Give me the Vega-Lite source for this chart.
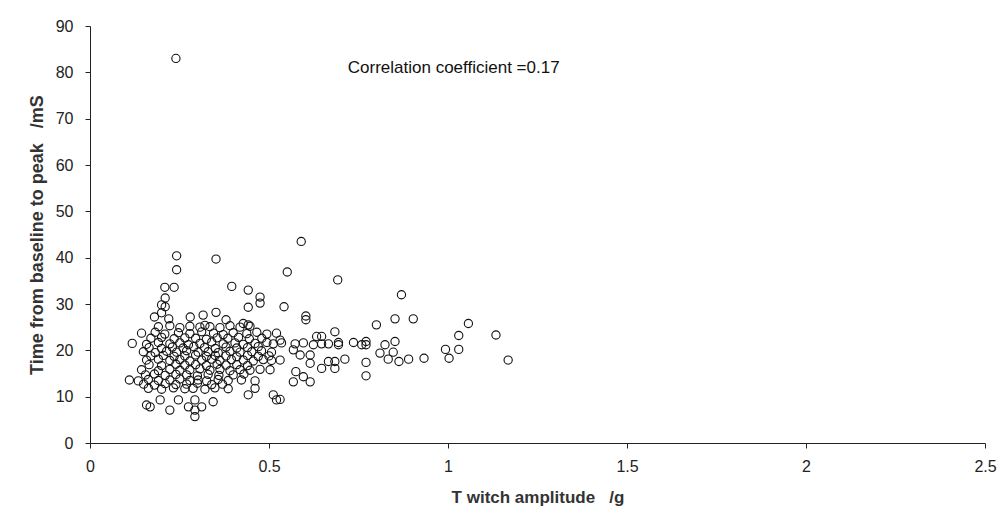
{
  "$schema": "https://vega.github.io/schema/vega-lite/v6.json",
  "width": 895,
  "height": 417,
  "autosize": "none",
  "padding": {"left": 90, "top": 26, "right": 16, "bottom": 79},
  "background": "white",
  "config": {
    "view": {"stroke": null},
    "font": "Liberation Sans"
  },
  "datasets": {
    "twitch": [
      {"amp": 0.24, "ttp": 83.0},
      {"amp": 0.242, "ttp": 40.4}, {"amp": 0.242, "ttp": 37.4}, {"amp": 0.352, "ttp": 39.7},
      {"amp": 0.209, "ttp": 33.6}, {"amp": 0.235, "ttp": 33.6}, {"amp": 0.396, "ttp": 33.8},
      {"amp": 0.442, "ttp": 33.0}, {"amp": 0.475, "ttp": 31.5}, {"amp": 0.475, "ttp": 30.2},
      {"amp": 0.442, "ttp": 29.3}, {"amp": 0.542, "ttp": 29.4}, {"amp": 0.551, "ttp": 36.9},
      {"amp": 0.59, "ttp": 43.5}, {"amp": 0.21, "ttp": 31.3}, {"amp": 0.2, "ttp": 29.8},
      {"amp": 0.21, "ttp": 29.4}, {"amp": 0.2, "ttp": 28.1}, {"amp": 0.692, "ttp": 35.2},
      {"amp": 0.87, "ttp": 32.0},
      {"amp": 0.18, "ttp": 27.2}, {"amp": 0.22, "ttp": 26.8}, {"amp": 0.28, "ttp": 27.2},
      {"amp": 0.316, "ttp": 27.6}, {"amp": 0.352, "ttp": 28.2}, {"amp": 0.38, "ttp": 26.6},
      {"amp": 0.428, "ttp": 25.8}, {"amp": 0.442, "ttp": 25.5}, {"amp": 0.603, "ttp": 27.4},
      {"amp": 0.603, "ttp": 26.6}, {"amp": 0.8, "ttp": 25.5}, {"amp": 0.852, "ttp": 26.8},
      {"amp": 0.903, "ttp": 26.8}, {"amp": 1.057, "ttp": 25.8}, {"amp": 1.03, "ttp": 23.2},
      {"amp": 1.134, "ttp": 23.3}, {"amp": 1.03, "ttp": 20.2}, {"amp": 0.993, "ttp": 20.2},
      {"amp": 1.003, "ttp": 18.3}, {"amp": 0.933, "ttp": 18.3}, {"amp": 0.89, "ttp": 18.1},
      {"amp": 0.863, "ttp": 17.6}, {"amp": 0.833, "ttp": 18.1}, {"amp": 0.81, "ttp": 19.4},
      {"amp": 0.824, "ttp": 21.2}, {"amp": 0.852, "ttp": 21.9}, {"amp": 0.847, "ttp": 19.6},
      {"amp": 0.771, "ttp": 21.9}, {"amp": 0.771, "ttp": 21.2}, {"amp": 0.736, "ttp": 21.7},
      {"amp": 0.759, "ttp": 21.2}, {"amp": 0.771, "ttp": 17.4}, {"amp": 0.771, "ttp": 14.5},
      {"amp": 0.712, "ttp": 18.1}, {"amp": 0.684, "ttp": 24.0}, {"amp": 0.694, "ttp": 21.7},
      {"amp": 0.694, "ttp": 21.2}, {"amp": 0.684, "ttp": 17.6}, {"amp": 0.684, "ttp": 16.1},
      {"amp": 0.666, "ttp": 17.6}, {"amp": 0.647, "ttp": 16.1}, {"amp": 0.633, "ttp": 23.0},
      {"amp": 0.647, "ttp": 23.0}, {"amp": 0.568, "ttp": 13.2}, {"amp": 0.615, "ttp": 13.2},
      {"amp": 0.596, "ttp": 14.3}, {"amp": 0.575, "ttp": 15.4}, {"amp": 0.615, "ttp": 17.2},
      {"amp": 0.587, "ttp": 19.0}, {"amp": 0.615, "ttp": 19.0}, {"amp": 0.568, "ttp": 20.1},
      {"amp": 0.573, "ttp": 21.4}, {"amp": 0.596, "ttp": 21.6}, {"amp": 0.624, "ttp": 21.2},
      {"amp": 0.647, "ttp": 21.4}, {"amp": 0.666, "ttp": 21.4}, {"amp": 0.531, "ttp": 22.2},
      {"amp": 0.531, "ttp": 17.9}, {"amp": 0.531, "ttp": 9.4}, {"amp": 1.168, "ttp": 17.9},
      {"amp": 0.144, "ttp": 23.7}, {"amp": 0.182, "ttp": 23.9}, {"amp": 0.209, "ttp": 23.5},
      {"amp": 0.247, "ttp": 23.8}, {"amp": 0.279, "ttp": 23.6}, {"amp": 0.312, "ttp": 24.0},
      {"amp": 0.345, "ttp": 23.7}, {"amp": 0.372, "ttp": 23.4}, {"amp": 0.4, "ttp": 23.8},
      {"amp": 0.438, "ttp": 23.6}, {"amp": 0.466, "ttp": 23.9}, {"amp": 0.494, "ttp": 23.5},
      {"amp": 0.521, "ttp": 23.7},
      {"amp": 0.118, "ttp": 21.5}, {"amp": 0.158, "ttp": 21.3}, {"amp": 0.191, "ttp": 21.7},
      {"amp": 0.223, "ttp": 21.4}, {"amp": 0.251, "ttp": 21.6}, {"amp": 0.275, "ttp": 21.2},
      {"amp": 0.307, "ttp": 21.5}, {"amp": 0.34, "ttp": 21.8}, {"amp": 0.372, "ttp": 21.4},
      {"amp": 0.405, "ttp": 21.6}, {"amp": 0.428, "ttp": 21.3}, {"amp": 0.461, "ttp": 21.5},
      {"amp": 0.494, "ttp": 21.7}, {"amp": 0.512, "ttp": 21.4}, {"amp": 0.535, "ttp": 21.6},
      {"amp": 0.149, "ttp": 19.7}, {"amp": 0.182, "ttp": 19.5}, {"amp": 0.214, "ttp": 19.8},
      {"amp": 0.242, "ttp": 19.6}, {"amp": 0.27, "ttp": 19.9}, {"amp": 0.302, "ttp": 19.6},
      {"amp": 0.33, "ttp": 19.7}, {"amp": 0.358, "ttp": 19.5}, {"amp": 0.391, "ttp": 19.8},
      {"amp": 0.419, "ttp": 19.6}, {"amp": 0.452, "ttp": 19.7}, {"amp": 0.479, "ttp": 19.9},
      {"amp": 0.507, "ttp": 19.6},
      {"amp": 0.158, "ttp": 17.9}, {"amp": 0.191, "ttp": 18.1}, {"amp": 0.223, "ttp": 17.8},
      {"amp": 0.251, "ttp": 18.0}, {"amp": 0.279, "ttp": 17.7}, {"amp": 0.312, "ttp": 17.9},
      {"amp": 0.34, "ttp": 18.1}, {"amp": 0.363, "ttp": 17.8}, {"amp": 0.395, "ttp": 18.0},
      {"amp": 0.428, "ttp": 17.9}, {"amp": 0.456, "ttp": 17.7}, {"amp": 0.484, "ttp": 18.0},
      {"amp": 0.507, "ttp": 17.8},
      {"amp": 0.144, "ttp": 15.8}, {"amp": 0.191, "ttp": 15.6}, {"amp": 0.223, "ttp": 15.9},
      {"amp": 0.251, "ttp": 15.7}, {"amp": 0.279, "ttp": 15.8}, {"amp": 0.307, "ttp": 16.0},
      {"amp": 0.335, "ttp": 15.7}, {"amp": 0.363, "ttp": 15.9}, {"amp": 0.391, "ttp": 15.6},
      {"amp": 0.419, "ttp": 15.8}, {"amp": 0.447, "ttp": 15.7}, {"amp": 0.475, "ttp": 15.9},
      {"amp": 0.503, "ttp": 15.8},
      {"amp": 0.11, "ttp": 13.6}, {"amp": 0.135, "ttp": 13.4}, {"amp": 0.163, "ttp": 13.7},
      {"amp": 0.191, "ttp": 13.5}, {"amp": 0.223, "ttp": 13.6}, {"amp": 0.251, "ttp": 13.8},
      {"amp": 0.279, "ttp": 13.5}, {"amp": 0.302, "ttp": 13.6}, {"amp": 0.326, "ttp": 13.4},
      {"amp": 0.358, "ttp": 13.7}, {"amp": 0.386, "ttp": 13.5}, {"amp": 0.423, "ttp": 13.6},
      {"amp": 0.461, "ttp": 13.4},
      {"amp": 0.163, "ttp": 11.8}, {"amp": 0.2, "ttp": 11.6}, {"amp": 0.233, "ttp": 11.9},
      {"amp": 0.265, "ttp": 11.7}, {"amp": 0.288, "ttp": 11.8}, {"amp": 0.321, "ttp": 11.6},
      {"amp": 0.349, "ttp": 11.9}, {"amp": 0.386, "ttp": 11.7}, {"amp": 0.461, "ttp": 11.8},
      {"amp": 0.191, "ttp": 25.1}, {"amp": 0.223, "ttp": 25.3}, {"amp": 0.251, "ttp": 24.9},
      {"amp": 0.279, "ttp": 25.2}, {"amp": 0.307, "ttp": 25.0}, {"amp": 0.321, "ttp": 25.4},
      {"amp": 0.335, "ttp": 25.1}, {"amp": 0.363, "ttp": 24.9}, {"amp": 0.391, "ttp": 25.3},
      {"amp": 0.419, "ttp": 25.0}, {"amp": 0.447, "ttp": 25.2},
      {"amp": 0.158, "ttp": 8.2}, {"amp": 0.168, "ttp": 7.8}, {"amp": 0.223, "ttp": 7.1},
      {"amp": 0.275, "ttp": 7.8}, {"amp": 0.293, "ttp": 9.3}, {"amp": 0.293, "ttp": 7.1},
      {"amp": 0.293, "ttp": 5.7}, {"amp": 0.312, "ttp": 7.8}, {"amp": 0.344, "ttp": 8.9},
      {"amp": 0.196, "ttp": 9.3}, {"amp": 0.247, "ttp": 9.3}, {"amp": 0.442, "ttp": 10.4},
      {"amp": 0.512, "ttp": 10.4}, {"amp": 0.521, "ttp": 9.3},
      {"amp": 0.17, "ttp": 22.6}, {"amp": 0.2, "ttp": 22.8}, {"amp": 0.235, "ttp": 22.5},
      {"amp": 0.265, "ttp": 22.7}, {"amp": 0.295, "ttp": 22.6}, {"amp": 0.325, "ttp": 22.4},
      {"amp": 0.355, "ttp": 22.7}, {"amp": 0.385, "ttp": 22.6}, {"amp": 0.415, "ttp": 22.8},
      {"amp": 0.445, "ttp": 22.5}, {"amp": 0.48, "ttp": 22.6},
      {"amp": 0.165, "ttp": 20.6}, {"amp": 0.2, "ttp": 20.4}, {"amp": 0.23, "ttp": 20.7},
      {"amp": 0.26, "ttp": 20.5}, {"amp": 0.29, "ttp": 20.8}, {"amp": 0.32, "ttp": 20.6},
      {"amp": 0.35, "ttp": 20.4}, {"amp": 0.38, "ttp": 20.7}, {"amp": 0.41, "ttp": 20.5},
      {"amp": 0.44, "ttp": 20.6}, {"amp": 0.47, "ttp": 20.8},
      {"amp": 0.17, "ttp": 18.8}, {"amp": 0.205, "ttp": 18.9}, {"amp": 0.235, "ttp": 18.7},
      {"amp": 0.265, "ttp": 18.8}, {"amp": 0.295, "ttp": 19.0}, {"amp": 0.325, "ttp": 18.7},
      {"amp": 0.35, "ttp": 18.9}, {"amp": 0.38, "ttp": 18.8}, {"amp": 0.41, "ttp": 18.6},
      {"amp": 0.44, "ttp": 18.9}, {"amp": 0.47, "ttp": 18.7}, {"amp": 0.5, "ttp": 18.8},
      {"amp": 0.165, "ttp": 16.9}, {"amp": 0.2, "ttp": 16.7}, {"amp": 0.24, "ttp": 17.0},
      {"amp": 0.265, "ttp": 16.8}, {"amp": 0.295, "ttp": 16.9}, {"amp": 0.325, "ttp": 16.7},
      {"amp": 0.355, "ttp": 17.0}, {"amp": 0.38, "ttp": 16.8}, {"amp": 0.41, "ttp": 16.9},
      {"amp": 0.44, "ttp": 16.7},
      {"amp": 0.155, "ttp": 14.7}, {"amp": 0.18, "ttp": 14.9}, {"amp": 0.21, "ttp": 14.6},
      {"amp": 0.24, "ttp": 14.8}, {"amp": 0.27, "ttp": 14.7}, {"amp": 0.3, "ttp": 14.5},
      {"amp": 0.33, "ttp": 14.8}, {"amp": 0.36, "ttp": 14.6}, {"amp": 0.4, "ttp": 14.7},
      {"amp": 0.43, "ttp": 14.9},
      {"amp": 0.15, "ttp": 12.7}, {"amp": 0.18, "ttp": 12.5}, {"amp": 0.21, "ttp": 12.8},
      {"amp": 0.24, "ttp": 12.6}, {"amp": 0.27, "ttp": 12.7}, {"amp": 0.3, "ttp": 12.9},
      {"amp": 0.34, "ttp": 12.6}, {"amp": 0.37, "ttp": 12.7}
    ],
    "note": [
      {"amp": 0.72, "ttp": 81, "label": "Correlation coefficient =0.17"}
    ]
  },
  "layer": [
    {
      "data": {"name": "twitch"},
      "mark": {"type": "point", "shape": "circle", "filled": false, "stroke": "#111111", "strokeWidth": 1.1, "size": 68, "opacity": 1},
      "encoding": {
        "x": {
          "field": "amp", "type": "quantitative",
          "scale": {"domain": [0, 2.5], "nice": false, "zero": true},
          "axis": {
            "title": "T witch amplitude\u00a0\u00a0 /g",
            "values": [0, 0.5, 1, 1.5, 2, 2.5],
            "labelExpr": "'' + datum.value",
            "grid": false,
            "domainColor": "#222222", "tickColor": "#222222",
            "tickSize": 5, "labelPadding": 10,
            "labelFont": "Liberation Sans", "labelFontSize": 16, "labelColor": "#222222",
            "labelFlush": false,
            "titleFont": "Liberation Sans", "titleFontSize": 17, "titleFontWeight": "bold",
            "titleColor": "#333333", "titlePadding": 15
          }
        },
        "y": {
          "field": "ttp", "type": "quantitative",
          "scale": {"domain": [0, 90], "nice": false},
          "axis": {
            "title": "Time from baseline to peak\u00a0\u00a0 /mS",
            "values": [0, 10, 20, 30, 40, 50, 60, 70, 80, 90],
            "labelExpr": "'' + datum.value",
            "grid": false,
            "domainColor": "#222222", "tickColor": "#222222",
            "tickSize": 5, "labelPadding": 12,
            "labelFont": "Liberation Sans", "labelFontSize": 16, "labelColor": "#222222",
            "labelFlush": false,
            "titleFont": "Liberation Sans", "titleFontSize": 18, "titleFontWeight": "bold",
            "titleColor": "#333333", "titlePadding": 9
          }
        }
      }
    },
    {
      "data": {"name": "note"},
      "mark": {"type": "text", "align": "left", "baseline": "middle", "font": "Liberation Sans", "fontSize": 17, "color": "#111111"},
      "encoding": {
        "x": {"field": "amp", "type": "quantitative"},
        "y": {"field": "ttp", "type": "quantitative"},
        "text": {"field": "label"}
      }
    }
  ]
}
